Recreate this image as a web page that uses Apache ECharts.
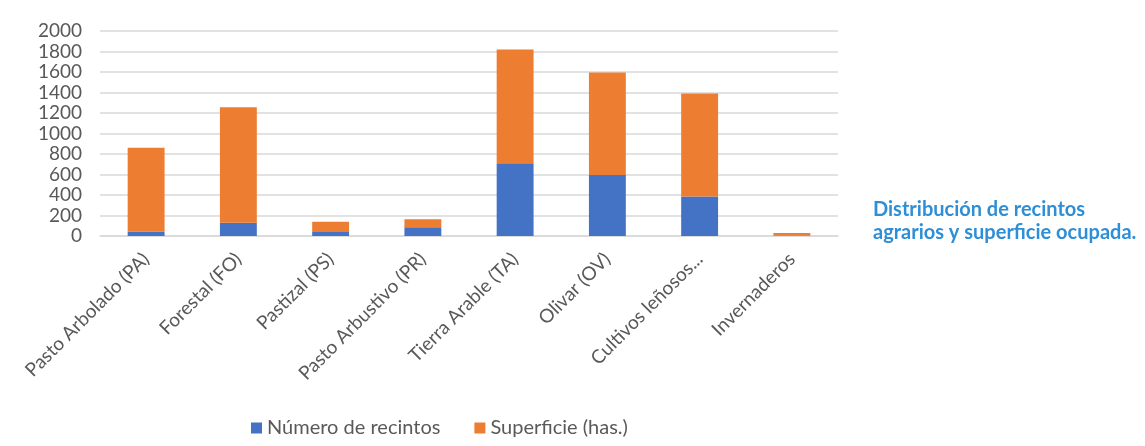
<!DOCTYPE html>
<html>
<head>
<meta charset="utf-8">
<script src="https://cdn.jsdelivr.net/npm/echarts@6/dist/echarts.min.js"></script>
<style>
html,body{margin:0;padding:0;background:#fff;}
#c{width:1145px;height:446px;}
</style>
</head>
<body>
<div id="c"></div>
<script>
const categories = ["Pasto Arbolado (PA)", "Forestal (FO)", "Pastizal (PS)", "Pasto Arbustivo (PR)", "Tierra Arable (TA)", "Olivar (OV)", "Cultivos leñosos...", "Invernaderos"];
const numeroRecintos = [45, 130, 40, 85, 710, 595, 385, 3];
const superficie = [815, 1125, 100, 78, 1110, 1000, 1005, 27];
const yTicks = [0, 200, 400, 600, 800, 1000, 1200, 1400, 1600, 1800, 2000];
const seriesNames = ["Número de recintos", "Superficie (has.)"];
const titleLines = ["Distribución de recintos", "agrarios y superficie ocupada."];

const chart = echarts.init(document.getElementById('c'));
const font = 'Lato, "Open Sans", sans-serif';
chart.setOption({
  animation: false,
  textStyle: {fontFamily: font},
  graphic: [{
    type: 'text', left: 873, top: 198,
    style: {text: titleLines.join('\n'), fill: '#2e8fd6', font: 'bold 20px ' + font, lineHeight: 23}
  }],
  legend: {
    bottom: 3, left: 246, itemWidth: 11, itemHeight: 11, itemGap: 34,
    icon: 'rect',
    textStyle: {color: '#595959', fontSize: 20, fontFamily: font},
    data: seriesNames
  },
  grid: {left: 100, right: 307, top: 31, bottom: 210, containLabel: false},
  xAxis: {
    type: 'category', data: categories,
    axisLine: {lineStyle: {color: '#d9d9d9', width: 1.5}},
    axisTick: {show: false},
    axisLabel: {rotate: 45, color: '#595959', fontSize: 19, interval: 0, margin: 20, fontFamily: font}
  },
  yAxis: {
    type: 'value', min: yTicks[0], max: yTicks[yTicks.length - 1], interval: 200,
    axisLine: {show: false}, axisTick: {show: false},
    axisLabel: {color: '#595959', fontSize: 19, margin: 18, fontFamily: font, formatter: v => String(v)},
    splitLine: {lineStyle: {color: '#d9d9d9', width: 1.5}}
  },
  series: [
    {name: seriesNames[0], type: 'bar', stack: 's', data: numeroRecintos, barWidth: '40%', itemStyle: {color: '#4472c4'}},
    {name: seriesNames[1], type: 'bar', stack: 's', data: superficie, barWidth: '40%', itemStyle: {color: '#ed7d31'}}
  ]
});
</script>
</body>
</html>
